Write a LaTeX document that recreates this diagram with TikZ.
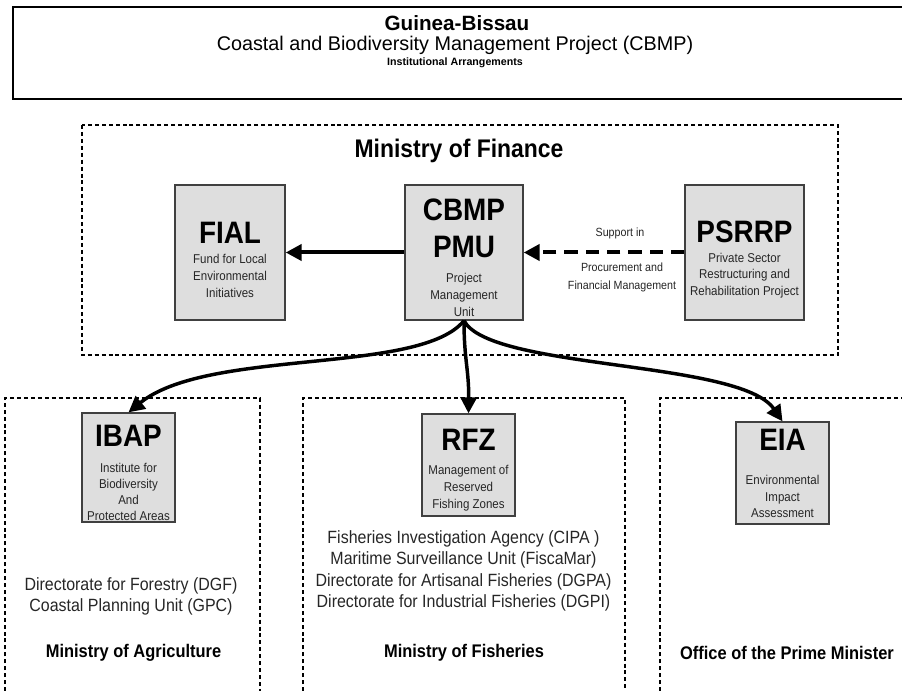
\documentclass[tikz,border=0pt]{standalone}
\usepackage{fontspec}
\setmainfont[FakeStretch=0.9]{Liberation Sans}
\newfontfamily\titlefont{Liberation Sans}
\usetikzlibrary{arrows.meta,positioning}

\tikzset{
  unitbox/.style={draw=black!75, fill=black!13, line width=1pt, inner sep=0pt},
  acronym/.style={font=\bfseries\fontsize{23.25pt}{27.75pt}\selectfont, inner sep=0pt, align=center},
  boxtext/.style={font=\fontsize{9.6pt}{12.6pt}\selectfont, inner sep=0pt, align=center, text=black!85},
  listtext/.style={font=\fontsize{13.3pt}{16.2pt}\selectfont, inner sep=0pt, align=center, text=black!85},
  ministry/.style={font=\bfseries\fontsize{13.7pt}{16pt}\selectfont, inner sep=0pt},
  frame/.style={line width=0.9pt, dash pattern=on 3pt off 2.2pt},
  link/.style={line width=2.6pt, -{Triangle[length=12pt,width=12pt]}},
}

\begin{document}
\begin{tikzpicture}[x=0.75pt, y=-0.75pt]
  \useasboundingbox (0,0) rectangle (902,691);

  % title
  \draw[line width=1.2pt] (902,7) -- (13,7) -- (13,99) -- (902,99);
  \node[font=\titlefont\bfseries\fontsize{15.5pt}{17pt}\selectfont, inner sep=0pt] (country) at (457,23) {Guinea-Bissau};
  \node[font=\titlefont\fontsize{14.85pt}{17pt}\selectfont, inner sep=0pt] (project) at (455,45) {Coastal and Biodiversity Management Project (CBMP)};
  \node[font=\titlefont\bfseries\fontsize{8pt}{9pt}\selectfont, inner sep=0pt] (subtitle) at (455,63) {Institutional Arrangements};

  % Ministry of Finance
  \draw[frame] (82,125) rectangle (838,355);
  \node[font=\bfseries\fontsize{19.1pt}{22pt}\selectfont, inner sep=0pt] (mof) at (459,151) {Ministry of Finance};

  \node[unitbox, minimum width=82.5pt, minimum height=101.25pt] (fial) at (230,252.5) {};
  \node[acronym] (fialname) at (230,233) {FIAL};
  \node[boxtext] (fialtext) at (230,276) {Fund for Local\\Environmental\\Initiatives};

  \node[unitbox, minimum width=88.5pt, minimum height=101.25pt] (cbmp) at (464,252.5) {};
  \node[acronym] (cbmpname) at (464,228.5) {CBMP\\PMU};
  \node[boxtext] (cbmptext) at (464,295) {Project\\Management\\Unit};

  \node[unitbox, minimum width=89.25pt, minimum height=101.25pt] (psrrp) at (744.5,252.5) {};
  \node[acronym] (psrrpname) at (744.5,232) {PSRRP};
  \node[boxtext] (psrrptext) at (744.5,275.5) {Private Sector\\Restructuring and\\Rehabilitation Project};

  \node[boxtext, font=\fontsize{8.9pt}{13.5pt}\selectfont] (supportlbl) at (620,233) {Support in};
  \node[boxtext, font=\fontsize{8.9pt}{13.5pt}\selectfont] (procurelbl) at (622,277) {Procurement and\\Financial Management};

  \draw[link, line width=3pt] (cbmp) -- (fial);
  \draw[link, line width=3pt, dash pattern=on 10pt off 6pt] (psrrp) -- (cbmp);

  % Ministry of Agriculture
  \draw[frame] (5,691) |- (260,398) -- (260,691);
  \node[unitbox, minimum width=69.75pt, minimum height=81.75pt] (ibap) at (128.5,467.5) {};
  \node[acronym] (ibapname) at (128.5,436) {IBAP};
  \node[boxtext, font=\fontsize{9.6pt}{12pt}\selectfont] (ibaptext) at (128.5,492) {Institute for\\Biodiversity\\And\\Protected Areas};
  \node[listtext] (agrilist) at (131,596.5) {Directorate for Forestry (DGF)\\Coastal Planning Unit (GPC)};
  \node[ministry] (agri) at (133.5,653) {Ministry of Agriculture};

  % Ministry of Fisheries
  \draw[frame] (303,691) |- (625,398) -- (625,691);
  \node[unitbox, minimum width=69.75pt, minimum height=76.5pt] (rfz) at (468.5,465) {};
  \node[acronym] (rfzname) at (468.5,440) {RFZ};
  \node[boxtext] (rfztext) at (468.5,488) {Management of\\Reserved\\Fishing Zones};
  \node[listtext] (fishlist) at (463.5,571) {Fisheries Investigation Agency (CIPA )\\Maritime Surveillance Unit (FiscaMar)\\Directorate for Artisanal Fisheries (DGPA)\\Directorate for Industrial Fisheries (DGPI)};
  \node[ministry] (fish) at (464,653) {Ministry of Fisheries};

  % Office of the Prime Minister
  \draw[frame] (660,691) |- (902,398);
  \node[unitbox, minimum width=69.75pt, minimum height=76.5pt] (eia) at (782.5,473) {};
  \node[acronym] (eianame) at (782.5,440) {EIA};
  \node[boxtext] (eiatext) at (782.5,496.5) {Environmental\\Impact\\Assessment};
  \node[ministry] (pm) at (787,653) {Office of the Prime Minister};

  \draw[link] (cbmp.south) .. controls (420,375) and (208,348) .. (ibap.north);
  \draw[link] (cbmp.south) .. controls (464,360) and (469,370) .. (rfz.north);
  \draw[link] (cbmp.south) .. controls (490,370) and (740,360) .. (eia.north);
\end{tikzpicture}
\end{document}
